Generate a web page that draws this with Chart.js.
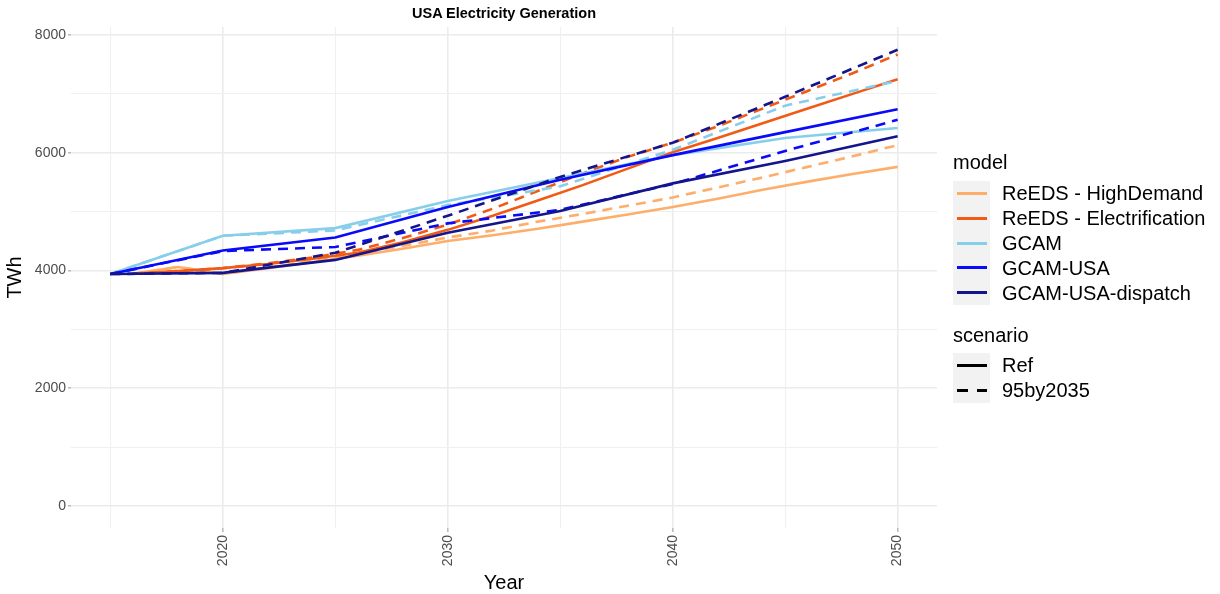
<!DOCTYPE html>
<html><head><meta charset="utf-8">
<script src="https://cdn.jsdelivr.net/npm/chart.js@4/dist/chart.umd.min.js"></script>
<style>
html,body{margin:0;padding:0;background:#fff;}
#wrap{position:relative;width:1220px;height:594px;font-family:"Liberation Sans",Arial,sans-serif;overflow:hidden;}
#c{position:absolute;left:0;top:0;}
.t{position:absolute;white-space:nowrap;line-height:1;color:#000;}
.box{position:absolute;background:#F2F2F2;}
.key{position:absolute;height:3px;}
</style></head><body>
<div id="wrap">
<canvas id="c" width="1220" height="594"></canvas>
<div id="title" class="t" style="left:0;width:1008px;top:6px;text-align:center;font-weight:bold;font-size:14.5px;">USA Electricity Generation</div>
<div id="legend"></div>
</div>
<script>
// ---- data ----
const reedsYears = [2016,2018,2020,2022,2024,2026,2028,2030,2032,2034,2036,2038,2040,2042,2044,2046,2048,2050];
const gcamYears = [2015,2020,2025,2030,2035,2040,2045,2050];

const reedsHighDemandRef   = [3945,4060,3940,4040,4140,4250,4370,4500,4600,4710,4830,4950,5080,5220,5370,5510,5640,5760];
const reedsHighDemand95    = [3945,4060,3940,4050,4160,4280,4420,4560,4680,4830,4960,5100,5240,5410,5580,5760,5940,6130];
const reedsElectrifRef     = [3945,3990,4040,4110,4200,4300,4480,4690,4930,5190,5450,5730,6010,6250,6500,6750,7000,7250];
const reedsElectrif95      = [3945,3990,4040,4120,4220,4350,4550,4780,5050,5350,5650,5930,6170,6450,6750,7050,7350,7670];
const gcamRef              = [3940,4590,4720,5180,5570,5960,6250,6420];
const gcam95               = [3940,4590,4680,5110,5430,6050,6800,7220];
const gcamUsaRef           = [3940,4340,4560,5080,5540,5960,6350,6740];
const gcamUsa95            = [3940,4330,4400,4800,5030,5470,6030,6560];
const gcamUsaDispatchRef   = [3940,3960,4180,4640,5010,5480,5860,6280];
const gcamUsaDispatch95    = [3940,3960,4300,4930,5590,6170,6950,7750];

const models = ["ReEDS - HighDemand","ReEDS - Electrification","GCAM","GCAM-USA","GCAM-USA-dispatch"];
const scenarios = ["Ref","95by2035"];
const yTicks = [0,2000,4000,6000,8000];
const yMinorTicks = [1000,3000,5000,7000];
const xTicks = [2020,2030,2040,2050];
const xMinorTicks = [2015,2025,2035,2045];

const colors = {
  "ReEDS - HighDemand":"#FDAE6B",
  "ReEDS - Electrification":"#F05A14",
  "GCAM":"#87CEEB",
  "GCAM-USA":"#0A0AFA",
  "GCAM-USA-dispatch":"#14148C"
};
const dashes = {"Ref":[], "95by2035":[10,7]};

const series = [
  {model:"ReEDS - HighDemand", scenario:"Ref", years:reedsYears, values:reedsHighDemandRef},
  {model:"ReEDS - HighDemand", scenario:"95by2035", years:reedsYears, values:reedsHighDemand95},
  {model:"ReEDS - Electrification", scenario:"Ref", years:reedsYears, values:reedsElectrifRef},
  {model:"ReEDS - Electrification", scenario:"95by2035", years:reedsYears, values:reedsElectrif95},
  {model:"GCAM", scenario:"Ref", years:gcamYears, values:gcamRef},
  {model:"GCAM", scenario:"95by2035", years:gcamYears, values:gcam95},
  {model:"GCAM-USA", scenario:"Ref", years:gcamYears, values:gcamUsaRef},
  {model:"GCAM-USA", scenario:"95by2035", years:gcamYears, values:gcamUsa95},
  {model:"GCAM-USA-dispatch", scenario:"Ref", years:gcamYears, values:gcamUsaDispatchRef},
  {model:"GCAM-USA-dispatch", scenario:"95by2035", years:gcamYears, values:gcamUsaDispatch95}
];

const datasets = series.map((s,i)=>({
  label: s.model + " / " + s.scenario,
  data: s.years.map((y,k)=>({x:y, y:s.values[k]})),
  borderColor: colors[s.model],
  backgroundColor: colors[s.model],
  borderDash: dashes[s.scenario],
  borderWidth: 2.6,
  pointRadius: 0,
  tension: 0,
  fill: false,
  order: series.length - i
}));

const FONT = '"Liberation Sans", Arial, sans-serif';
const isMajorX = v => xTicks.includes(v);
const isMajorY = v => yTicks.includes(v);
const allX = xMinorTicks.concat(xTicks).sort((a,b)=>a-b);
const allY = yMinorTicks.concat(yTicks).sort((a,b)=>a-b);

new Chart(document.getElementById('c'), {
  type: 'line',
  data: { datasets },
  options: {
    responsive: false,
    devicePixelRatio: 1,
    animation: false,
    layout: { padding: { left: 0, right: 283, top: 27, bottom: 0 } },
    plugins: { legend: { display: false }, title: { display: false }, tooltip: { enabled: false } },
    scales: {
      x: {
        type: 'linear',
        min: 2013.25, max: 2051.75,
        border: { display: false },
        afterBuildTicks: s => { s.ticks = allX.map(v => ({ value: v })); },
        grid: {
          color: c => (c.tick && isMajorX(c.tick.value)) ? '#EBEBEB' : '#F0F0F0',
          lineWidth: c => (c.tick && isMajorX(c.tick.value)) ? 1.6 : 1.1,
          tickLength: 4,
          tickColor: c => (c.tick && isMajorX(c.tick.value)) ? '#BDBDBD' : 'rgba(0,0,0,0)'
        },
        ticks: {
          autoSkip: false,
          minRotation: 90, maxRotation: 90, padding: 3,
          color: '#4D4D4D', font: { family: FONT, size: 14 },
          callback: v => isMajorX(v) ? String(v) : ''
        },
        title: { display: true, text: 'Year', color: '#000', font: { family: FONT, size: 20, lineHeight: 1.1 }, padding: { top: 0, bottom: 0 } },
        afterFit: s => { s.height = 66; }
      },
      y: {
        type: 'linear',
        min: -373.7, max: 8135.9,
        border: { display: false },
        afterBuildTicks: s => { s.ticks = allY.map(v => ({ value: v })); },
        grid: {
          color: c => (c.tick && isMajorY(c.tick.value)) ? '#EBEBEB' : '#F0F0F0',
          lineWidth: c => (c.tick && isMajorY(c.tick.value)) ? 1.6 : 1.1,
          tickLength: 3,
          tickColor: c => (c.tick && isMajorY(c.tick.value)) ? '#BDBDBD' : 'rgba(0,0,0,0)'
        },
        ticks: {
          autoSkip: false, padding: 2,
          color: '#4D4D4D', font: { family: FONT, size: 14 },
          callback: v => isMajorY(v) ? String(v) : ''
        },
        title: { display: true, text: 'TWh', color: '#000', font: { family: FONT, size: 20, lineHeight: 1.1 }, padding: { top: 4, bottom: 0 } },
        afterFit: s => { s.width = 71; }
      }
    }
  }
});

// ---- legend (HTML) ----
const lg = document.getElementById('legend');
function addText(txt, left, cy, size){
  const d = document.createElement('div');
  d.className = 't';
  d.textContent = txt;
  d.style.left = left + 'px';
  d.style.fontSize = size + 'px';
  d.style.top = (cy - size*0.5) + 'px';
  lg.appendChild(d);
}
function addBox(left, top, w, h){
  const d = document.createElement('div');
  d.className = 'box';
  Object.assign(d.style, {left:left+'px', top:top+'px', width:w+'px', height:h+'px'});
  lg.appendChild(d);
}
function addKey(left, cy, w, color){
  const d = document.createElement('div');
  d.className = 'key';
  Object.assign(d.style, {left:left+'px', top:(cy-1.5)+'px', width:w+'px', background:color});
  lg.appendChild(d);
}
const rowH = 24.8;
addText('model', 953, 162, 20);
addBox(953, 181, 37, rowH*models.length);
models.forEach((m,i)=>{
  const cy = 181 + rowH*(i+0.5);
  addKey(957, cy, 30, colors[m]);
  addText(m, 1002, cy, 20);
});
addText('scenario', 953, 335, 20);
addBox(953, 353, 37, rowH*scenarios.length);
scenarios.forEach((s,i)=>{
  const cy = 353 + rowH*(i+0.5);
  if (s === 'Ref') addKey(957, cy, 30, '#000');
  else { addKey(957, cy, 11, '#000'); addKey(977, cy, 10, '#000'); }
  addText(s, 1002, cy, 20);
});
</script>
</body></html>
